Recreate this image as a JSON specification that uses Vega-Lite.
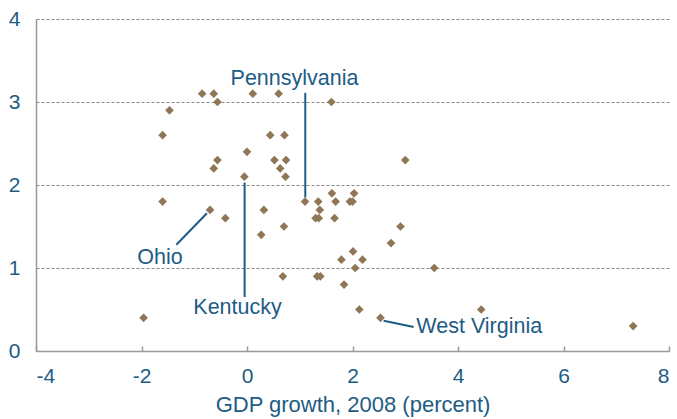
{
  "$schema": "https://vega.github.io/schema/vega-lite/v6.json",
  "width": 633,
  "height": 332,
  "padding": {"left": 36, "top": 19, "right": 8, "bottom": 68},
  "autosize": {"type": "none"},
  "background": "white",
  "config": {
    "view": {"stroke": null},
    "font": "Liberation Sans",
    "axis": {"labelFont": "Liberation Sans", "titleFont": "Liberation Sans"}
  },
  "datasets": {
    "points": [
      {"gdp": -0.85, "val": 3.1}, {"gdp": -0.63, "val": 3.1}, {"gdp": -0.56, "val": 3.0},
      {"gdp": 0.11, "val": 3.1}, {"gdp": 0.6, "val": 3.1}, {"gdp": 1.6, "val": 3.0},
      {"gdp": -1.47, "val": 2.9}, {"gdp": -1.6, "val": 2.6}, {"gdp": 0.44, "val": 2.6},
      {"gdp": 0.71, "val": 2.6}, {"gdp": 0.0, "val": 2.4}, {"gdp": -0.56, "val": 2.3},
      {"gdp": -0.63, "val": 2.2}, {"gdp": 0.52, "val": 2.3}, {"gdp": 0.74, "val": 2.3},
      {"gdp": 0.63, "val": 2.2}, {"gdp": 0.73, "val": 2.1}, {"gdp": -0.05, "val": 2.1},
      {"gdp": -1.6, "val": 1.8}, {"gdp": 1.1, "val": 1.8}, {"gdp": 1.35, "val": 1.8},
      {"gdp": 1.61, "val": 1.9}, {"gdp": 1.68, "val": 1.8}, {"gdp": 2.03, "val": 1.9},
      {"gdp": 1.95, "val": 1.8}, {"gdp": 2.0, "val": 1.8}, {"gdp": 3.0, "val": 2.3},
      {"gdp": -0.7, "val": 1.7}, {"gdp": -0.41, "val": 1.6}, {"gdp": 0.32, "val": 1.7},
      {"gdp": 0.27, "val": 1.4}, {"gdp": 0.7, "val": 1.5}, {"gdp": 1.38, "val": 1.7},
      {"gdp": 1.3, "val": 1.6}, {"gdp": 1.36, "val": 1.6}, {"gdp": 1.66, "val": 1.6},
      {"gdp": 0.68, "val": 0.9}, {"gdp": 1.33, "val": 0.9}, {"gdp": 1.39, "val": 0.9},
      {"gdp": -1.96, "val": 0.4}, {"gdp": 2.91, "val": 1.5}, {"gdp": 2.73, "val": 1.3},
      {"gdp": 2.01, "val": 1.2}, {"gdp": 1.79, "val": 1.1}, {"gdp": 2.19, "val": 1.1},
      {"gdp": 2.05, "val": 1.0}, {"gdp": 3.55, "val": 1.0}, {"gdp": 1.84, "val": 0.8},
      {"gdp": 2.13, "val": 0.5}, {"gdp": 4.44, "val": 0.5}, {"gdp": 2.53, "val": 0.4},
      {"gdp": 7.32, "val": 0.3}
    ],
    "leaders": [
      {"name": "Pennsylvania", "x1": 1.105, "y1": 3.11, "x2": 1.105, "y2": 1.85},
      {"name": "Kentucky", "x1": -0.045, "y1": 2.03, "x2": -0.045, "y2": 0.65},
      {"name": "Ohio", "x1": -1.34, "y1": 1.28, "x2": -0.76, "y2": 1.66},
      {"name": "West Virginia", "x1": 2.59, "y1": 0.364, "x2": 3.16, "y2": 0.288}
    ],
    "labels": [
      {"name": "Pennsylvania", "x": 0.9, "y": 3.2, "anchor": "center"},
      {"name": "Kentucky", "x": -0.18, "y": 0.44, "anchor": "center"},
      {"name": "Ohio", "x": -1.65, "y": 1.05, "anchor": "center"},
      {"name": "West Virginia", "x": 3.21, "y": 0.22, "anchor": "left"}
    ]
  },
  "layer": [
    {
      "data": {"name": "points"},
      "mark": {"type": "point", "shape": "diamond", "filled": true, "size": 75, "color": "#8f7656", "opacity": 1},
      "encoding": {
        "x": {
          "field": "gdp", "type": "quantitative",
          "scale": {"domain": [-4, 8], "nice": false, "zero": false},
          "axis": {
            "values": [-4, -2, 0, 2, 4, 6, 8],
            "labelExpr": "'' + datum.value",
            "title": "GDP growth, 2008 (percent)",
            "titleFontSize": 22, "titleFontWeight": "normal", "titleColor": "#1d5c84", "titlePadding": 8,
            "labelFontSize": 21, "labelColor": "#1d5c84", "labelPadding": 19,
            "domainColor": "#999999", "domainWidth": 1.5,
            "tickColor": "#999999", "tickSize": -5, "tickWidth": 1.5,
            "grid": false
          }
        },
        "y": {
          "field": "val", "type": "quantitative",
          "scale": {"domain": [0, 4], "nice": false},
          "axis": {
            "values": [0, 1, 2, 3, 4],
            "labelExpr": "'' + datum.value",
            "title": null,
            "labelFontSize": 21, "labelColor": "#1d5c84", "labelPadding": 16,
            "domainColor": "#999999", "domainWidth": 1.5,
            "ticks": false,
            "grid": true, "gridColor": "#888888", "gridDash": [3, 2], "gridWidth": 1
          }
        }
      }
    },
    {
      "data": {"name": "leaders"},
      "mark": {"type": "rule", "color": "#1d5c84", "strokeWidth": 2},
      "encoding": {
        "x": {"field": "x1", "type": "quantitative"},
        "y": {"field": "y1", "type": "quantitative"},
        "x2": {"field": "x2"},
        "y2": {"field": "y2"}
      }
    },
    {
      "data": {"name": "labels"},
      "transform": [{"filter": "datum.anchor == 'center'"}],
      "mark": {"type": "text", "align": "center", "baseline": "alphabetic", "fontSize": 21.5, "color": "#1d5c84"},
      "encoding": {
        "x": {"field": "x", "type": "quantitative"},
        "y": {"field": "y", "type": "quantitative"},
        "text": {"field": "name"}
      }
    },
    {
      "data": {"name": "labels"},
      "transform": [{"filter": "datum.anchor == 'left'"}],
      "mark": {"type": "text", "align": "left", "baseline": "alphabetic", "fontSize": 21.5, "color": "#1d5c84"},
      "encoding": {
        "x": {"field": "x", "type": "quantitative"},
        "y": {"field": "y", "type": "quantitative"},
        "text": {"field": "name"}
      }
    }
  ]
}
